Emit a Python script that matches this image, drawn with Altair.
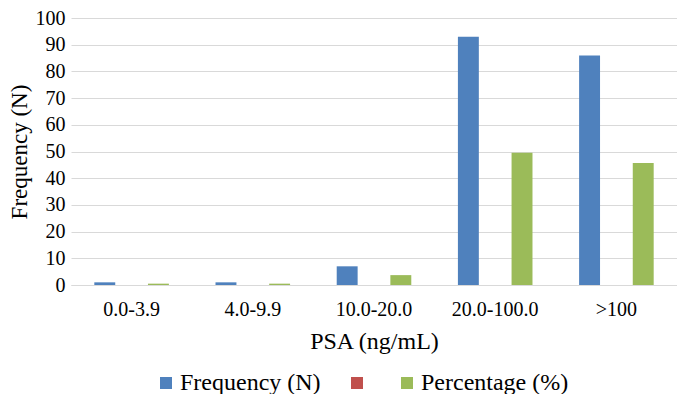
import altair as alt
import pandas as pd

categories = ["0.0-3.9", "4.0-9.9", "10.0-20.0", "20.0-100.0", ">100"]
frequency = [1, 1, 7, 93, 86]
percentage = [0.5, 0.5, 3.7, 49.5, 45.7]
series_names = ["Frequency (N)", "Series2", "Percentage (%)"]
series_colors = ["#4f81bd", "#c0504d", "#9bbb59"]

rows = []
for c, f, p in zip(categories, frequency, percentage):
    rows.append({"cat": c, "series": "Frequency (N)", "value": f})
    rows.append({"cat": c, "series": "Percentage (%)", "value": p})
df = pd.DataFrame(rows)

FONT = "'Liberation Serif', 'Times New Roman', 'DejaVu Serif', serif"

chart = alt.Chart(df).mark_bar().encode(
    x=alt.X("cat:N", sort=categories,
            scale=alt.Scale(paddingInner=0.336, paddingOuter=0.168),
            axis=alt.Axis(title="PSA (ng/mL)", labelAngle=0, ticks=False,
                          labelPadding=14, titlePadding=10,
                          domainColor="#d9d9d9", labelFontSize=20, titleFontSize=24,
                          labelFont=FONT, titleFont=FONT, labelColor="black",
                          titleColor="black", titleFontWeight="normal")),
    xOffset=alt.XOffset("series:N", sort=series_names,
                        scale=alt.Scale(domain=series_names, paddingInner=0.22, paddingOuter=0.11)),
    y=alt.Y("value:Q", scale=alt.Scale(domain=[0, 100]),
            axis=alt.Axis(title="Frequency (N)", values=list(range(0, 101, 10)),
                          ticks=False, domain=False, labelPadding=6,
                          gridColor="#d9d9d9", labelFontSize=20, titleFontSize=23,
                          labelFont=FONT, titleFont=FONT, labelColor="black",
                          titleColor="black", titleFontWeight="normal", titlePadding=4)),
    color=alt.Color("series:N",
                    scale=alt.Scale(domain=series_names, range=series_colors),
                    legend=alt.Legend(title=None, orient="none", direction="horizontal",
                                      legendX=83, legendY=353,
                                      symbolType="square", symbolSize=144,
                                      symbolStrokeWidth=0,
                                      labelFont=FONT, labelColor="black",
                                      labelFontSize=24, labelOffset=2,
                                      columnPadding=24,
                                      labelExpr="datum.label == 'Series2' ? '' : datum.label")),
).properties(
    width=606, height=267,
    autosize=alt.AutoSizeParams(type="none"),
    padding={"left": 63, "top": 10, "right": 0, "bottom": 109},
).configure(font=FONT).configure_view(stroke=None)

chart.save("out.html", embed_options={"renderer": "svg", "actions": False})
